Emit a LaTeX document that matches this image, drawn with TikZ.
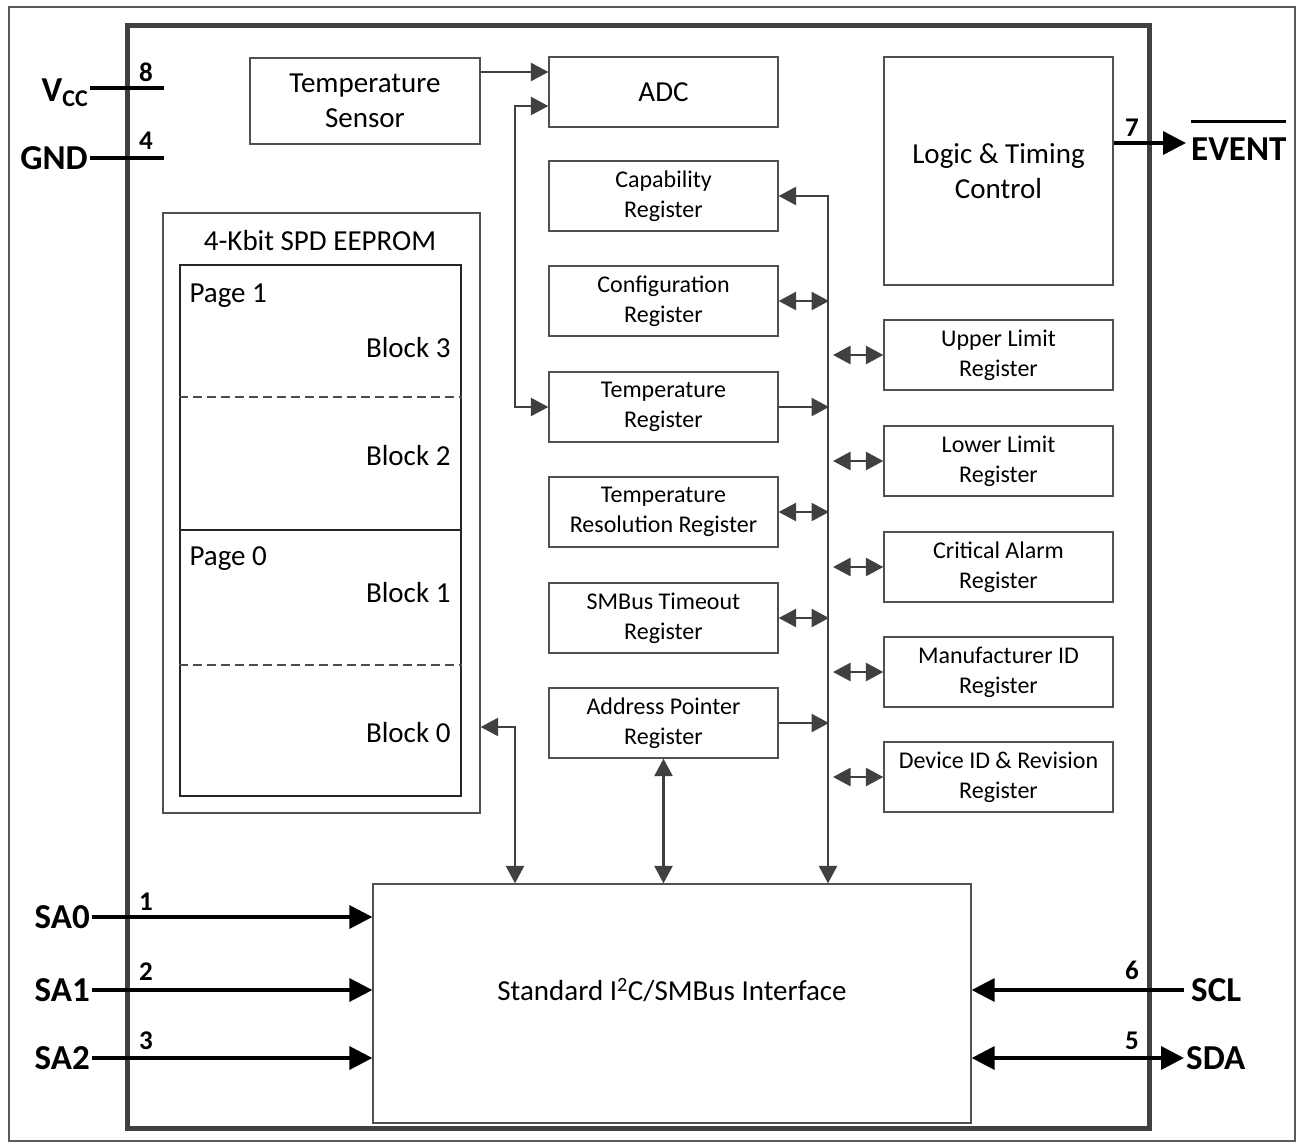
\documentclass[tikz,border=0pt]{standalone}
\usepackage{fontspec}
\setmainfont{Carlito}
\usetikzlibrary{arrows.meta}

\definecolor{wire}{HTML}{404040}
\definecolor{edge}{HTML}{505050}
\definecolor{frame}{HTML}{5A5A5A}

% overline for an active-low signal name
\newcommand\activelow[1]{\vbox{\hrule height 3.5pt\kern 14pt\hbox{#1}}}

\tikzset{
  tipS/.tip={Triangle[length=17.5pt,width=18pt]},
  tipL/.tip={Triangle[length=23pt,width=23pt]},
  box/.style={draw=edge, line width=1.3pt, inner sep=0pt, align=center,
              minimum width=229pt, minimum height=70pt},
  big/.style={font=\fontsize{29}{35}\selectfont},
  regtxt/.style={font=\fontsize{24}{30}\selectfont},
  reg/.style={box, regtxt},
  wr/.style={draw=wire, line width=2.6pt},
  pinw/.style={draw=black, line width=3.5pt},
  pinname/.style={font=\fontsize{35}{40}\selectfont\bfseries, inner sep=2pt},
  pinnum/.style={font=\fontsize{27}{30}\selectfont\bfseries, inner sep=0pt},
}

\begin{document}
\begin{tikzpicture}[x=1pt,y=-1pt]
\useasboundingbox (0,0) rectangle (1299,1146);

% sheet frame and package outline
\draw[frame, line width=2pt] (9,7) rectangle (1295,1141);
\draw[wire, line width=5pt, line join=miter] (127,25) rectangle (1149,1128);

% functional blocks
\node[box, big, minimum width=230pt, minimum height=86pt] (ts) at (365,101) {Temperature\\Sensor};
\node[box, big] (adc) at (663.5,92) {ADC};
\node[box, big, minimum height=228pt] (logic) at (998.5,171) {Logic \& Timing\\Control};

% left register column
\node[reg] (cap)  at (663.5,196) {Capability\\Register};
\node[reg] (conf) at (663.5,301) {Configuration\\Register};
\node[reg] (temp) at (663.5,407) {Temperature\\Register};
\node[reg] (res)  at (663.5,512) {Temperature\\Resolution Register};
\node[reg] (smb)  at (663.5,618) {SMBus Timeout\\Register};
\node[reg] (addr) at (663.5,723) {Address Pointer\\Register};

% right register column
\node[reg] (upper) at (998.5,355) {Upper Limit\\Register};
\node[reg] (lower) at (998.5,461) {Lower Limit\\Register};
\node[reg] (crit)  at (998.5,567) {Critical Alarm\\Register};
\node[reg] (manu)  at (998.5,672) {Manufacturer ID\\Register};
\node[reg] (dev)   at (998.5,777) {Device ID \& Revision\\Register};

% EEPROM array
\node[box, minimum width=317pt, minimum height=600pt] (eeprom) at (321.5,513) {};
\node[big] (eetitle) at (320,241) {4-Kbit SPD EEPROM};
\node[draw=black!85, line width=1.3pt, minimum width=281pt, minimum height=531pt, inner sep=0pt] (array) at (320.5,530.5) {};
\draw[black!85, line width=1.3pt] (array.west |- 0,530) -- (array.east |- 0,530);
\draw[black!70, line width=1.1pt, dash pattern=on 9pt off 5pt] (array.west |- 0,397) -- (array.east |- 0,397);
\draw[black!70, line width=1.1pt, dash pattern=on 9pt off 5pt] (array.west |- 0,665) -- (array.east |- 0,665);
\node[big, anchor=west] (pg1) at (186,296) {Page 1};
\node[big, anchor=east] (b3)  at (454,348) {Block 3};
\node[big, anchor=east] (b2)  at (454,456) {Block 2};
\node[big, anchor=west] (pg0) at (186,559) {Page 0};
\node[big, anchor=east] (b1)  at (454,593) {Block 1};
\node[big, anchor=east] (b0)  at (454,733) {Block 0};

% serial interface
\node[box, minimum width=598pt, minimum height=239pt] (iface) at (672,1003.5) {};
\node[big] (ifacetxt) at ([yshift=13pt]iface.center) {Standard I\textsuperscript{2}C/SMBus Interface};

% internal connections
\draw[wr, -tipS] (ts.east |- 0,72) -- (adc.west |- 0,72);
\draw[wr, tipS-tipS] (adc.west |- 0,106) -- (515,106) |- (temp.west);
\draw[wr, tipS-tipS] (cap.east) -- (828,196) -- (iface.north -| 828,0);
\draw[wr, tipS-tipS] (conf.east) -- (conf.east -| 829,0);
\draw[wr, -tipS] (temp.east) -- (temp.east -| 829,0);
\draw[wr, tipS-tipS] (res.east) -- (res.east -| 829,0);
\draw[wr, tipS-tipS] (smb.east) -- (smb.east -| 829,0);
\draw[wr, -tipS] (addr.east) -- (addr.east -| 829,0);
\foreach \r in {upper,lower,crit,manu,dev}
  \draw[wr, tipS-tipS] (\r.west -| 833,0) -- (\r.west);
\draw[wr, tipS-tipS] (eeprom.east |- 0,727) -- (515,727) -- (iface.north -| 515,0);
\draw[wr, tipS-tipS] (addr.south) -- (iface.north -| addr.south);

% supply pins
\node[pinname, anchor=east] (vcc) at (90,93) {V\raisebox{-5pt}{\fontsize{24}{24}\selectfont CC}};
\node[pinname, anchor=east] (gnd) at (90,158) {GND};
\coordinate (vccin) at (164,88);
\coordinate (gndin) at (164,158);
\draw[pinw] (vccin -| vcc.east) -- (vccin);
\draw[pinw] (gnd.east) -- (gndin);
\node[pinnum] (n8) at (146,72) {8};
\node[pinnum] (n4) at (146,141) {4};

% address pins
\node[pinname, anchor=east] (sa0) at (92,917) {SA0};
\node[pinname, anchor=east] (sa1) at (92,990) {SA1};
\node[pinname, anchor=east] (sa2) at (92,1058) {SA2};
\draw[pinw, -tipL] (sa0.east) -- (iface.west |- sa0.east);
\draw[pinw, -tipL] (sa1.east) -- (iface.west |- sa1.east);
\draw[pinw, -tipL] (sa2.east) -- (iface.west |- sa2.east);
\node[pinnum] (n1) at (146,902) {1};
\node[pinnum] (n2) at (146,972) {2};
\node[pinnum] (n3) at (146,1041) {3};

% bus pins
\node[pinname, anchor=west, inner xsep=7pt] (scl) at (1184,990) {SCL};
\node[pinname, anchor=west] (sda) at (1184,1058) {SDA};
\draw[pinw, -tipL] (scl.west) -- (iface.east |- scl.west);
\draw[pinw, tipL-tipL] (iface.east |- sda.west) -- (sda.west);
\node[pinnum] (n6) at (1132,970) {6};
\node[pinnum] (n5) at (1132,1041) {5};

% alert output
\node[pinname, anchor=base west, inner xsep=5pt] (event) at (1186,160) {\activelow{EVENT}};
\draw[pinw, -tipL] (logic.east |- 0,143) -- (event.west |- 0,143);
\node[pinnum] (n7) at (1132,128) {7};
\end{tikzpicture}
\end{document}
